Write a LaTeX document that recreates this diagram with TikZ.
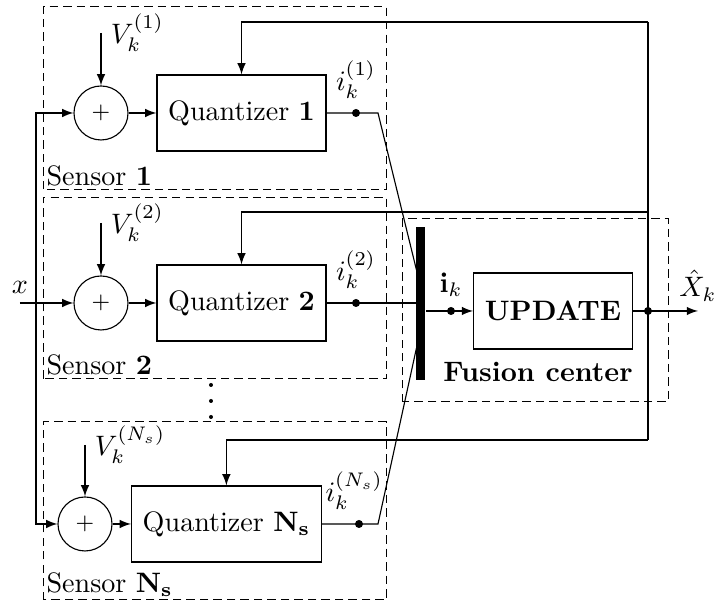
\documentclass[tikz,border=0pt]{standalone}
\usepackage{amsmath}
\tikzset{
    sumnode/.style={draw, circle, minimum size=0.675cm, inner sep=0pt, font=\footnotesize},
    blockbox/.style={draw, rectangle, minimum height=0.95cm, inner xsep=0.14cm},
    tapdot/.style={circle, fill=black, inner sep=0pt, minimum size=0.1cm},
    groupline/.style={dash pattern=on 3pt off 1.8pt, line width=0.35pt},
}
\begin{document}
\begin{tikzpicture}[>=latex]
    \useasboundingbox (0, 0) rectangle (8.9375, 7.575);

    \draw [groupline] (0.54, 5.21) rectangle (4.83, 7.49);
    \draw [groupline] (0.54, 2.84) rectangle (4.83, 5.11);
    \draw [groupline] (0.54, 0.075) rectangle (4.83, 2.3);
    \draw [groupline] (5.03, 2.55) rectangle (8.35, 4.84);
    \node [anchor=south west, inner sep=1pt] (sens1) at (0.54, 5.21) {Sensor \textbf{1}};
    \node [anchor=south west, inner sep=1pt] (sens2) at (0.54, 2.84) {Sensor \textbf{2}};
    \node [anchor=south west, inner sep=1pt] (sensN) at (0.54, 0.075) {Sensor $\mathbf{N_s}$};

    \node [sumnode] (sum1) at (1.2625, 6.1625) {$+$};
    \node [sumnode] (sum2) at (1.2625, 3.7875) {$+$};
    \node [sumnode] (sumN) at (1.0625, 1.025) {$+$};
    \node [blockbox] (q1) at (3.019, 6.1625) {Quantizer \textbf{1}};
    \node [blockbox] (q2) at (3.019, 3.7875) {Quantizer \textbf{2}};
    \node [blockbox] (qN) at (2.83, 1.025) {Quantizer $\mathbf{N_s}$};

    \coordinate [label=right:{$V_k^{(1)}$}] (v1) at (1.2625, 7.1625);
    \coordinate [label=right:{$V_k^{(2)}$}] (v2) at (1.2625, 4.7875);
    \coordinate [label=right:{$V_k^{(N_s)}$}] (vN) at (1.0625, 2.0125);
    \draw [->] (v1) -- (sum1);
    \draw [->] (v2) -- (sum2);
    \draw [->] (vN) -- (sumN);

    \coordinate [label=above:{$x$}] (xin) at (0.25, 3.7875);
    \coordinate (split) at (0.45, 3.7875);
    \draw [->] (xin) -- (sum2);
    \draw [->] (split) |- (sum1);
    \draw [->] (split) |- (sumN);

    \draw [->] (sum1) -- (q1);
    \draw [->] (sum2) -- (q2);
    \draw [->] (sumN) -- (qN);

    \node [tapdot, label=above:{$i_k^{(1)}$}] (d1) at (4.45, 6.1625) {};
    \node [tapdot, label=above:{$i_k^{(2)}$}] (d2) at (4.45, 3.7875) {};
    \node [tapdot, label={[xshift=-0.06cm]above:{$i_k^{(N_s)}$}}] (dN) at (4.4875, 1.025) {};

    \foreach \y in {2.7625, 2.5625, 2.3625}
        \fill (2.6375, \y) circle (0.025cm);

    \node [fill=black, inner sep=0pt, minimum width=0.1125cm, minimum height=1.91cm] (bar) at (5.2625, 3.78) {};
    \coordinate (bend1) at (4.725, 6.1625);
    \coordinate (bendN) at (4.725, 1.025);
    \coordinate (in1) at (5.206, 4.2);
    \coordinate (inN) at (5.206, 3.225);
    \draw (q1.east) -- (d1.center) -- (bend1) -- (in1);
    \draw (q2.east) -- (d2.center) -- (d2 -| bar.west);
    \draw (qN.east) -- (dN.center) -- (bendN) -- (inN);

    \node [blockbox] (update) at (6.9125, 3.6875) {\textbf{UPDATE}};
    \node (fuslab) at (6.725, 2.925) {\textbf{Fusion center}};
    \node [tapdot, label=above:{$\mathbf{i}_k$}] (ik) at (5.6375, 3.6875) {};
    \draw [->] (bar.east |- ik) -- (update.west);

    \node [tapdot] (fb) at (8.1, 3.6875) {};
    \coordinate [label=above:{$\hat{X}_k$}] (xhat) at (8.725, 3.6875);
    \draw [->] (update.east) -- (xhat);

    \coordinate (fbtop) at (8.1, 7.3);
    \coordinate (fbmid) at (8.1, 4.925);
    \coordinate (fbbot) at (8.1, 2.075);
    \draw (fbtop) -- (fbbot);
    \draw [->] (fbtop) -| (q1.north);
    \draw [->] (fbmid) -| (q2.north);
    \draw [->] (fbbot) -| (qN.north);
\end{tikzpicture}
\end{document}
